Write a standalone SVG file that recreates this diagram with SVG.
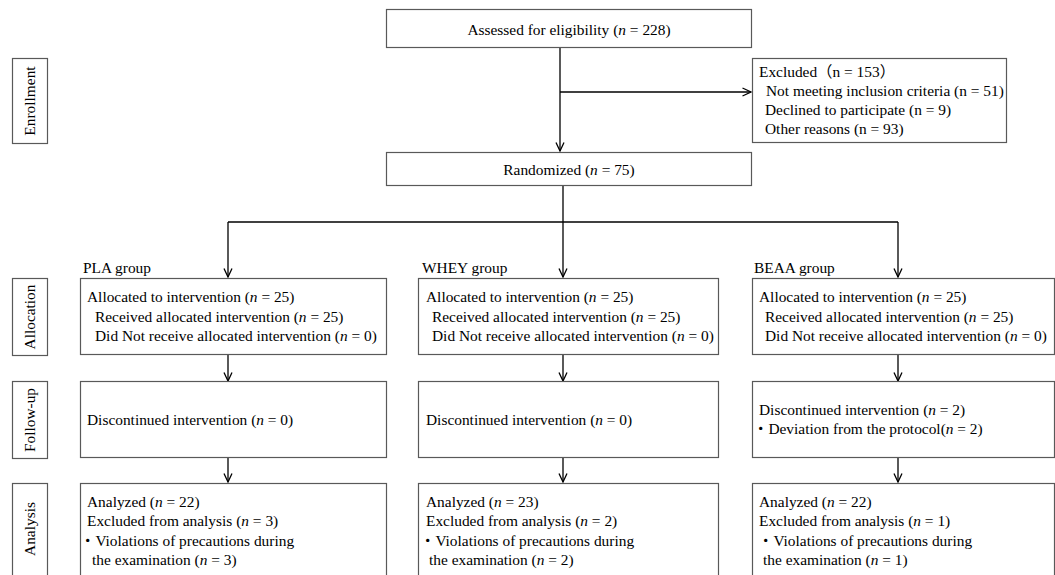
<svg xmlns="http://www.w3.org/2000/svg" width="1055" height="575" viewBox="0 0 1055 575">
<style>
.box{fill:#fff;stroke:#595959;stroke-width:1.2}
.ln{fill:none;stroke:#000;stroke-width:1.3}
text{font-family:"Liberation Serif","Noto Sans CJK JP",serif;font-size:15.4px;fill:#000}
.c{text-anchor:middle}
.i{font-style:italic}
</style>
<defs>
<marker id="ar" viewBox="0 0 10 10" refX="9.5" refY="5" markerWidth="10" markerHeight="10" markerUnits="userSpaceOnUse" orient="auto">
<polyline points="1,1 9.5,5 1,9" fill="none" stroke="#000" stroke-width="1.3"/>
</marker>
</defs>
<rect width="1055" height="575" fill="#fff"/>
<g id="connectors">
<line class="ln" x1="560" y1="48" x2="560" y2="151" marker-end="url(#ar)"/>
<line class="ln" x1="560" y1="92" x2="751" y2="92" marker-end="url(#ar)"/>
<line class="ln" x1="563" y1="186" x2="563" y2="222"/>
<line class="ln" x1="228" y1="222" x2="898" y2="222"/>
<line class="ln" x1="228" y1="222" x2="228" y2="277" marker-end="url(#ar)"/>
<line class="ln" x1="563" y1="222" x2="563" y2="277" marker-end="url(#ar)"/>
<line class="ln" x1="898" y1="222" x2="898" y2="277" marker-end="url(#ar)"/>
<line class="ln" x1="228" y1="355" x2="228" y2="381" marker-end="url(#ar)"/>
<line class="ln" x1="563" y1="355" x2="563" y2="381" marker-end="url(#ar)"/>
<line class="ln" x1="898" y1="355" x2="898" y2="381" marker-end="url(#ar)"/>
<line class="ln" x1="228" y1="458" x2="228" y2="482" marker-end="url(#ar)"/>
<line class="ln" x1="563" y1="458" x2="563" y2="482" marker-end="url(#ar)"/>
<line class="ln" x1="898" y1="458" x2="898" y2="482" marker-end="url(#ar)"/>
</g>
<g id="side-enrollment">
<rect class="box" x="12.5" y="58.5" width="35" height="85"/>
<text class="c" transform="translate(35,101) rotate(-90)">Enrollment</text>
</g>
<g id="side-allocation">
<rect class="box" x="12.5" y="278.5" width="35" height="77"/>
<text class="c" transform="translate(35,317) rotate(-90)">Allocation</text>
</g>
<g id="side-followup">
<rect class="box" x="12.5" y="381.5" width="35" height="77"/>
<text class="c" transform="translate(35,420) rotate(-90)">Follow-up</text>
</g>
<g id="side-analysis">
<rect class="box" x="12.5" y="483.5" width="35" height="110"/>
<text class="c" transform="translate(35,529) rotate(-90)">Analysis</text>
</g>
<g id="assessed">
<rect class="box" x="386.5" y="9.5" width="365" height="38"/>
<text class="c" x="569" y="35">Assessed for eligibility (<tspan class="i">n</tspan> = 228)</text>
</g>
<g id="excluded">
<rect class="box" x="752.5" y="58.5" width="254" height="84"/>
<text x="759" y="77">Excluded（n = 153）</text>
<text x="766" y="96">Not meeting inclusion criteria (n = 51)</text>
<text x="765" y="115">Declined to participate (n = 9)</text>
<text x="765" y="134">Other reasons (n = 93)</text>
</g>
<g id="randomized">
<rect class="box" x="386.5" y="152.5" width="365" height="33"/>
<text class="c" x="569" y="175">Randomized (<tspan class="i">n</tspan> = 75)</text>
</g>
<g id="pla-alloc">
<text x="83" y="273">PLA group</text>
<rect class="box" x="80.5" y="278.5" width="306" height="76"/>
<text x="87" y="302">Allocated to intervention (<tspan class="i">n</tspan> = 25)</text>
<text x="95" y="322">Received allocated intervention (<tspan class="i">n</tspan> = 25)</text>
<text x="95" y="341">Did Not receive allocated intervention (<tspan class="i">n</tspan> = 0)</text>
</g>
<g id="whey-alloc">
<text x="422" y="273">WHEY group</text>
<rect class="box" x="418.5" y="278.5" width="300" height="76"/>
<text x="426" y="302">Allocated to intervention (<tspan class="i">n</tspan> = 25)</text>
<text x="432" y="322">Received allocated intervention (<tspan class="i">n</tspan> = 25)</text>
<text x="432" y="341">Did Not receive allocated intervention (<tspan class="i">n</tspan> = 0)</text>
</g>
<g id="beaa-alloc">
<text x="754" y="273">BEAA group</text>
<rect class="box" x="752.5" y="278.5" width="302" height="76"/>
<text x="759" y="302">Allocated to intervention (<tspan class="i">n</tspan> = 25)</text>
<text x="765" y="322">Received allocated intervention (<tspan class="i">n</tspan> = 25)</text>
<text x="765" y="341">Did Not receive allocated intervention (<tspan class="i">n</tspan> = 0)</text>
</g>
<g id="pla-follow">
<rect class="box" x="80.5" y="381.5" width="306" height="76"/>
<text x="87" y="425">Discontinued intervention (<tspan class="i">n</tspan> =  0)</text>
</g>
<g id="whey-follow">
<rect class="box" x="418.5" y="381.5" width="300" height="76"/>
<text x="426" y="425">Discontinued intervention (<tspan class="i">n</tspan> = 0)</text>
</g>
<g id="beaa-follow">
<rect class="box" x="752.5" y="381.5" width="302" height="76"/>
<text x="759" y="415">Discontinued intervention (<tspan class="i">n</tspan> =  2)</text>
<text x="753" y="434">・Deviation from the protocol(<tspan class="i">n</tspan> =  2)</text>
</g>
<g id="pla-analysis">
<rect class="box" x="80.5" y="483.5" width="306" height="110"/>
<text x="87" y="507">Analyzed (<tspan class="i">n</tspan> = 22)</text>
<text x="87" y="526">Excluded from analysis (<tspan class="i">n</tspan> = 3)</text>
<text x="80" y="546">・Violations of precautions during</text>
<text x="92" y="565">the examination (<tspan class="i">n</tspan> = 3)</text>
</g>
<g id="whey-analysis">
<rect class="box" x="418.5" y="483.5" width="300" height="110"/>
<text x="426" y="507">Analyzed (<tspan class="i">n</tspan> = 23)</text>
<text x="426" y="526">Excluded from analysis (<tspan class="i">n</tspan> = 2)</text>
<text x="420" y="546">・Violations of precautions during</text>
<text x="429" y="565">the examination (<tspan class="i">n</tspan> = 2)</text>
</g>
<g id="beaa-analysis">
<rect class="box" x="752.5" y="483.5" width="302" height="110"/>
<text x="759" y="507">Analyzed (<tspan class="i">n</tspan> = 22)</text>
<text x="759" y="526">Excluded from analysis (<tspan class="i">n</tspan> = 1)</text>
<text x="758" y="546">・Violations of precautions during</text>
<text x="763" y="565">the examination (<tspan class="i">n</tspan> =  1)</text>
</g>
</svg>
